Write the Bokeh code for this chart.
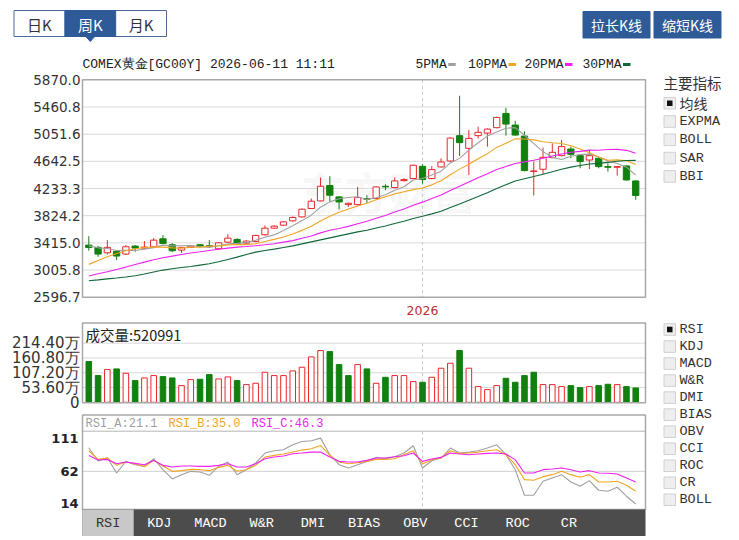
from bokeh.plotting import figure
from bokeh.models import Range1d, ColumnDataSource
from bokeh.core.properties import value
from bokeh.embed import file_html
from bokeh.resources import INLINE

# ---------------- data ----------------
title_text = "COMEX黄金[GC00Y] 2026-06-11 11:11"
period_tabs = ["日K", "周K", "月K"]
selected_period = 1
buttons = ["拉长K线", "缩短K线"]

opens = [3381, 3347, 3265, 3286, 3246, 3366, 3336, 3356, 3476, 3386,
         3306, 3346, 3386, 3371, 3326, 3426, 3466, 3411, 3436, 3536,
         3636, 3681, 3746, 3806, 3932, 4047, 4278, 4107, 3991, 3991,
         4082, 4083, 4267, 4248, 4352, 4383, 4568, 4383, 4558, 4647,
         5029, 4838, 5029, 5068, 5149, 5364, 5188, 5023, 4488, 4523,
         4698, 4728, 4828, 4728, 4662, 4688, 4563, 4553, 4573, 4347]
highs = [3516, 3366, 3456, 3306, 3381, 3381, 3441, 3486, 3531, 3411,
         3356, 3376, 3396, 3456, 3426, 3546, 3486, 3456, 3537, 3677,
         3681, 3741, 3812, 3932, 4083, 4398, 4418, 4117, 4021, 4257,
         4132, 4267, 4297, 4398, 4388, 4593, 4598, 4568, 4688, 5003,
         5630, 5113, 5164, 5138, 5314, 5449, 5254, 5093, 4638, 4849,
         4913, 4963, 4864, 4743, 4813, 4700, 4613, 4573, 4583, 4357]
lows = [3298, 3205, 3240, 3156, 3231, 3281, 3326, 3346, 3396, 3276,
        3265, 3336, 3356, 3346, 3306, 3416, 3396, 3401, 3426, 3526,
        3626, 3671, 3736, 3796, 3922, 4037, 4032, 3917, 3956, 3981,
        4016, 4073, 4207, 4237, 4337, 4373, 4308, 4373, 4548, 4637,
        4723, 4437, 4988, 4864, 5139, 5029, 5028, 4493, 4128, 4448,
        4688, 4718, 4688, 4538, 4527, 4538, 4488, 4428, 4352, 4063]
closes = [3344, 3246, 3347, 3216, 3356, 3336, 3350, 3456, 3407, 3296,
          3346, 3366, 3366, 3361, 3416, 3486, 3406, 3441, 3527, 3636,
          3666, 3731, 3797, 3922, 4042, 4267, 4132, 4031, 4011, 4097,
          4072, 4257, 4257, 4347, 4368, 4583, 4368, 4518, 4633, 4993,
          4924, 4988, 5079, 5128, 5304, 5203, 5038, 4503, 4498, 4703,
          4778, 4864, 4748, 4638, 4728, 4563, 4553, 4563, 4362, 4128]
volumes = [1478000, 969000, 1187000, 1211000, 1054000, 787000, 884000, 969000, 933000, 884000,
           606000, 824000, 836000, 1005000, 848000, 921000, 787000, 642000, 690000, 1090000,
           969000, 969000, 1139000, 1272000, 1647000, 1878000, 1841000, 1369000, 969000, 1369000,
           1211000, 690000, 908000, 969000, 969000, 751000, 727000, 908000, 1236000, 1417000,
           1878000, 1236000, 569000, 460000, 606000, 872000, 727000, 969000, 1090000, 642000,
           642000, 569000, 606000, 533000, 569000, 606000, 654000, 642000, 569000, 520991]
vol_up = [0, 0, 1, 0, 1, 0, 1, 1, 0, 0,
          1, 1, 0, 0, 1, 1, 0, 1, 1, 1,
          1, 1, 1, 1, 1, 1, 0, 0, 0, 1,
          0, 1, 0, 1, 1, 1, 0, 1, 1, 1,
          0, 1, 1, 1, 1, 0, 0, 0, 0, 1,
          1, 1, 0, 0, 1, 0, 0, 1, 0, 0]
ma5 = [3370, 3340, 3330, 3300, 3302, 3300, 3321, 3343, 3381, 3369,
       3371, 3374, 3356, 3347, 3371, 3399, 3407, 3422, 3455, 3499,
       3535, 3600, 3671, 3750, 3832, 3952, 4032, 4079, 4097, 4108,
       4069, 4094, 4139, 4206, 4260, 4362, 4385, 4437, 4494, 4619,
       4687, 4811, 4923, 5022, 5085, 5140, 5150, 5035, 4909, 4789,
       4704, 4669, 4718, 4746, 4751, 4708, 4646, 4609, 4554, 4434]
ma10 = [3091, 3150, 3205, 3255, 3295, 3325, 3345, 3355, 3350, 3340,
        3336, 3348, 3350, 3364, 3370, 3385, 3391, 3389, 3401, 3435,
        3467, 3504, 3547, 3603, 3666, 3744, 3816, 3875, 3924, 3970,
        4011, 4063, 4109, 4152, 4184, 4216, 4240, 4288, 4350, 4440,
        4525, 4598, 4680, 4758, 4852, 4914, 4981, 4979, 4966, 4937,
        4922, 4910, 4877, 4828, 4770, 4706, 4658, 4664, 4650, 4593]
ma20 = [2915, 2950, 2980, 3015, 3050, 3090, 3125, 3160, 3190, 3215,
        3240, 3262, 3280, 3300, 3318, 3335, 3350, 3360, 3372, 3386,
        3402, 3426, 3449, 3484, 3518, 3565, 3604, 3632, 3663, 3703,
        3739, 3784, 3828, 3878, 3925, 3980, 4028, 4082, 4137, 4205,
        4268, 4331, 4395, 4455, 4518, 4565, 4611, 4634, 4658, 4689,
        4724, 4754, 4779, 4793, 4811, 4810, 4820, 4822, 4808, 4765]
ma30 = [2845, 2858, 2872, 2885, 2900, 2920, 2945, 2975, 3005, 3025,
        3045, 3060, 3080, 3100, 3130, 3165, 3200, 3240, 3275, 3300,
        3320, 3345, 3370, 3400, 3430, 3460, 3490, 3520, 3550, 3580,
        3605, 3638, 3669, 3706, 3740, 3782, 3816, 3851, 3892, 3948,
        4001, 4055, 4112, 4171, 4234, 4291, 4346, 4381, 4413, 4449,
        4486, 4524, 4555, 4579, 4602, 4612, 4626, 4644, 4655, 4657]
rsi_a = [97.6, 77.5, 82.5, 59.5, 77, 72, 69.5, 81, 64.5, 50.5,
         57, 62, 61, 56, 69.5, 76, 57, 64.5, 74.5, 89.5,
         93, 94.5, 102, 107, 108, 112, 87, 72, 67, 72,
         77, 83, 81, 84, 89.6, 100.6, 67, 78, 82, 97,
         89.5, 91, 93, 97, 102, 87, 64.5, 26, 26, 47,
         52, 57, 46, 39.5, 48, 33.5, 32, 38, 24.5, 12.8]
rsi_b = [93, 80, 82, 71, 76, 73.5, 69, 78.5, 70, 62,
         63, 65, 64.5, 63, 68, 71, 62, 64.5, 71, 83.5,
         86, 88, 91, 94, 96, 101, 86, 76, 73.5, 75,
         77, 80, 80, 81, 87, 93, 73, 79.6, 82, 93,
         89, 89.6, 91, 93, 94.6, 87, 72, 49.5, 48.5, 54,
         57, 62, 57, 53, 57, 46, 46, 47, 41, 32]
rsi_c = [86, 79, 80, 73.5, 76, 74, 72, 78.5, 71, 68.5,
         70, 70, 69.5, 69.5, 71, 73.5, 68.5, 68.5, 73.5, 81,
         83.5, 85, 88.5, 89.5, 91, 91, 83.5, 77, 76, 76,
         78.5, 82, 82, 84, 85.5, 89.6, 77, 80.6, 83, 89.6,
         88, 87, 88, 89, 89.6, 88, 79.6, 59.5, 59.5, 64.5,
         65.5, 67, 64.5, 61, 63, 59.5, 59, 58, 52, 46]
rsi_header = [21.1, 35.0, 46.3]

price_ticks = [2596.7, 3005.8, 3415.0, 3824.2, 4233.3, 4642.5, 5051.6, 5460.8, 5870.0]
vol_ticks = [0, 536000, 1072000, 1608000, 2144000]
vol_tick_labels = ["0", "53.60万", "107.20万", "160.80万", "214.40万"]
rsi_ticks = [14, 62, 111]
year_labels = ["2026"]
year_index = [36]

ma_names = ["5PMA", "10PMA", "20PMA", "30PMA"]
ma_colors = ["#a0a0a0", "#f0a524", "#ee22ee", "#106838"]
rsi_names = ["RSI_A", "RSI_B", "RSI_C"]
rsi_colors = ["#a0a0a0", "#f0a524", "#ee22ee"]
main_indicators = ["均线", "EXPMA", "BOLL", "SAR", "BBI"]
sub_indicators = ["RSI", "KDJ", "MACD", "W&R", "DMI", "BIAS", "OBV", "CCI", "ROC", "CR", "BOLL"]
tab_labels = ["RSI", "KDJ", "MACD", "W&R", "DMI", "BIAS", "OBV", "CCI", "ROC", "CR"]

UP = "#e8272a"
DOWN = "#12800f"
BLUE = "#2e5a97"

# ---------------- layout ----------------
W, H = 739, 540
PL, PR = 82, 645
X0, DX = 88.3, 9.27

def yrange(v_top, y_top, v_bot, y_bot):
    k = (v_top - v_bot) / (y_bot - y_top)
    return Range1d(start=v_top - (H - y_top) * k, end=v_top + y_top * k)

p = figure(width=W, height=H, x_range=Range1d(0, W), y_range=Range1d(H, 0),
           output_backend="svg", toolbar_location=None, x_axis_type=None,
           y_axis_type=None, min_border=0, outline_line_color=None)
p.background_fill_color = "white"
p.border_fill_color = "white"
p.extra_x_ranges = {"idx": Range1d(-X0 / DX, (W - X0) / DX)}
p.extra_y_ranges = {
    "price": yrange(price_ticks[-1], 79.3, price_ticks[0], 296.7),
    "vol": yrange(vol_ticks[-1], 342.7, vol_ticks[0], 401.8),
    "rsi": yrange(rsi_ticks[-1], 438.3, rsi_ticks[0], 502.7),
}

n = len(closes)
idx = list(range(n))

def txt(x, y, t, size, color="#333333", font="Liberation Mono", align="left",
        style="normal", alpha=1.0, **kw):
    p.text(x=x, y=y, text=t, text_font=value(font), text_font_size=size,
           text_color=color, text_align=align, text_baseline="middle",
           text_font_style=style, text_alpha=alpha, **kw)

# watermark
txt([300], [190], ["东方财富"], "44px", color="#000000", font="Noto Sans CJK SC",
    style="bold", alpha=0.05)

# ---------- top controls ----------
p.quad(left=[13.5], right=[166], top=[10], bottom=[36], fill_color="white",
       line_color="#4a6a93", line_width=1)
tab_w = (166 - 13.5) / len(period_tabs)
sl = 13.5 + tab_w * selected_period
p.quad(left=[sl], right=[sl + tab_w], top=[10], bottom=[36], fill_color=BLUE, line_color=BLUE)
p.patch(x=[sl + tab_w / 2 - 4.5, sl + tab_w / 2 + 4.5, sl + tab_w / 2],
        y=[36, 36, 41], fill_color=BLUE, line_color=BLUE)
for k, t in enumerate(period_tabs):
    txt([13.5 + tab_w * (k + 0.5)], [23.5], [t], "15px",
        color="white" if k == selected_period else "#333333",
        font="Noto Sans CJK SC", align="center")

for k, t in enumerate(buttons):
    l = 582.5 + k * 71
    p.quad(left=[l], right=[l + 67], top=[11], bottom=[37.5], fill_color=BLUE, line_color=BLUE)
    txt([l + 33.5], [24.5], [t], "14px", color="white", font="Noto Sans CJK SC", align="center")

# title + legend
txt([82], [64], [title_text], "13px", color="#222222")
leg_x = [415, 467.5, 524, 582]
for k, name in enumerate(ma_names):
    txt([leg_x[k]], [64], [name], "13px", color="#222222")
    bx = leg_x[k] + 7.8 * len(name) + 1.5
    p.quad(left=[bx], right=[bx + 7.5], top=[62.5], bottom=[65.5],
           fill_color=ma_colors[k], line_color=None)

# ---------- price panel ----------
p.segment(x0=[PL] * 7, x1=[PR] * 7, y0=price_ticks[1:-1], y1=price_ticks[1:-1],
          y_range_name="price", line_color="#d9d9d9", line_width=1)
p.segment(x0=year_index, x1=year_index, y0=[price_ticks[-1]], y1=[price_ticks[0]],
          x_range_name="idx", y_range_name="price", line_color="#c8c8c8",
          line_dash="3 3", line_width=1)
txt([PL - 2] * len(price_ticks), price_ticks, [f"{v:.1f}" for v in price_ticks],
    "13.5px", color="#333333", font="DejaVu Sans", align="right", y_range_name="price")
txt(year_index, [310], year_labels, "12.5px", color="#b83030", font="DejaVu Sans",
    align="center", x_range_name="idx")

up = [c >= o for o, c in zip(opens, closes)]
src = ColumnDataSource(dict(
    x=idx, o=opens, h=highs, l=lows, c=closes,
    top=[max(o, c) for o, c in zip(opens, closes)],
    bot=[min(o, c) for o, c in zip(opens, closes)],
    col=[UP if u else DOWN for u in up],
    fill=["white" if u else DOWN for u in up],
))
p.segment(x0="x", x1="x", y0="l", y1="h", source=src, line_color="col",
          line_width=1, x_range_name="idx", y_range_name="price")
p.vbar(x="x", width=0.68, top="top", bottom="bot", source=src, fill_color="fill",
       line_color="col", line_width=1, x_range_name="idx", y_range_name="price")

for arr, col in zip([ma5, ma10, ma20, ma30], ma_colors):
    p.line(idx, arr, line_color=col, line_width=1.1, x_range_name="idx", y_range_name="price")

p.quad(left=[PL], right=[PR], top=[price_ticks[-1]], bottom=[price_ticks[0]],
       fill_color=None, line_color="#a8a8a8", line_width=1.5, y_range_name="price")

# ---------- volume panel ----------
p.segment(x0=[PL] * 4, x1=[PR] * 4, y0=vol_ticks[1:], y1=vol_ticks[1:],
          y_range_name="vol", line_color="#d9d9d9", line_width=1)
p.segment(x0=year_index, x1=year_index, y0=[vol_ticks[-1]], y1=[vol_ticks[0]],
          x_range_name="idx", y_range_name="vol", line_color="#c8c8c8",
          line_dash="3 3", line_width=1)
vsrc = ColumnDataSource(dict(
    x=idx, v=volumes,
    col=[UP if u else DOWN for u in vol_up],
    fill=["white" if u else DOWN for u in vol_up],
))
p.vbar(x="x", width=0.6, top="v", bottom=0, source=vsrc, fill_color="fill",
       line_color="col", line_width=1, x_range_name="idx", y_range_name="vol")
p.quad(left=[PL], right=[PR], top=[322.5], bottom=[402.3], fill_color=None,
       line_color="#a8a8a8", line_width=1.5)
txt([PL - 3] * len(vol_ticks), vol_ticks, vol_tick_labels, "15px",
    color="#333333", font="DejaVu Sans", align="right", y_range_name="vol")
txt([85], [334], [f"成交量:{volumes[-1]}"], "14.5px", color="#222222",
    font="Noto Sans CJK SC")

# ---------- RSI panel ----------
p.segment(x0=[PL], x1=[PR], y0=[rsi_ticks[1]], y1=[rsi_ticks[1]], y_range_name="rsi",
          line_color="#cfcfcf", line_width=1)
p.segment(x0=[PL], x1=[PR], y0=[430.7], y1=[430.7], line_color="#b5b5b5", line_width=1)
p.segment(x0=year_index, x1=year_index, y0=[431], y1=[509], x_range_name="idx",
          line_color="#c8c8c8", line_dash="3 3", line_width=1)
for arr, col in zip([rsi_a, rsi_b, rsi_c], rsi_colors):
    p.line(idx, arr, line_color=col, line_width=1.1, x_range_name="idx", y_range_name="rsi")
p.quad(left=[PL], right=[PR], top=[414.5], bottom=[509], fill_color=None,
       line_color="#a8a8a8", line_width=1.5)
txt([PL - 4] * len(rsi_ticks), rsi_ticks, [str(v) for v in rsi_ticks], "13px",
    color="#222222", font="DejaVu Sans", align="right", style="bold", y_range_name="rsi")
hx = [85, 168, 251]
for k in range(3):
    txt([hx[k]], [423], [f"{rsi_names[k]}:{rsi_header[k]:.1f}"], "12px",
        color=rsi_colors[k])

# ---------- bottom tab bar ----------
p.quad(left=[PL], right=[PR], top=[509], bottom=[535.5], fill_color="#4c4c4c", line_color=None)
tw = 51.2
p.quad(left=[PL], right=[PL + tw], top=[509], bottom=[535.5], fill_color="#c8c8c8", line_color=None)
txt([PL + tw * (k + 0.5) for k in range(len(tab_labels))], [522.5] * len(tab_labels),
    tab_labels, "13.5px", color=["#333333"] + ["white"] * (len(tab_labels) - 1),
    align="center")

# ---------- right side lists ----------
txt([663], [82], ["主要指标"], "14.5px", color="#333333", font="Noto Sans CJK SC")

def checklist(labels, y0, step, checked):
    ys = [y0 + step * k for k in range(len(labels))]
    p.quad(left=[663.5] * len(ys), right=[675] * len(ys), top=[y - 5.8 for y in ys],
           bottom=[y + 5.8 for y in ys], fill_color="#eeeeee", line_color="#d0d0d0")
    yc = ys[checked]
    p.quad(left=[666.5], right=[672], top=[yc - 2.8], bottom=[yc + 2.8],
           fill_color="#111111", line_color=None)
    for lab, y in zip(labels, ys):
        f = "Noto Sans CJK SC" if any(ord(ch) > 127 for ch in lab) else "Liberation Mono"
        txt([679], [y], [lab], "14px" if f != "Liberation Mono" else "13.5px",
            color="#333333", font=f)

checklist(main_indicators, 102.7, 18.3, 0)
checklist(sub_indicators, 329, 17.03, 0)

open("out.html", "w").write(file_html(p, INLINE))
